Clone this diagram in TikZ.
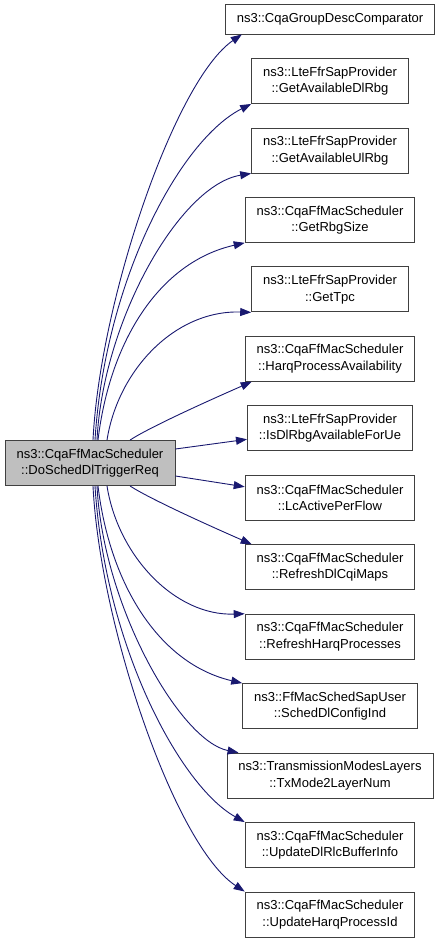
\documentclass[tikz,border=0pt]{standalone}
\usepackage{fontspec}
\setmainfont{Liberation Sans}
\usetikzlibrary{arrows.meta}
\definecolor{edgeblue}{HTML}{191970}
\definecolor{rootgray}{HTML}{BFBFBF}
\definecolor{boxline}{HTML}{404040}
\begin{document}
\begin{tikzpicture}[x=1pt,y=-1pt,
  every node/.style={font=\fontsize{13}{16.5}\selectfont, align=center},
  fnbox/.style={draw=boxline, line width=0.9pt, fill=white, inner xsep=11.5pt, inner ysep=0pt, minimum height=45pt},
  rootbox/.style={fnbox, fill=rootgray, minimum width=170pt},
  call/.style={draw=edgeblue, line width=0.9pt, -{Triangle[length=11pt,width=8pt]}}]
\useasboundingbox (0,0) rectangle (440,941);
\node[rootbox] (L) at (90,463) {ns3::CqaFfMacScheduler\\::DoSchedDlTriggerReq};
\node[fnbox, minimum height=30pt] (n1) at (330,19) {ns3::CqaGroupDescComparator};
\node[fnbox] (n2) at (330,81) {ns3::LteFfrSapProvider\\::GetAvailableDlRbg};
\node[fnbox] (n3) at (330,150.5) {ns3::LteFfrSapProvider\\::GetAvailableUlRbg};
\node[fnbox] (n4) at (330,219.9) {ns3::CqaFfMacScheduler\\::GetRbgSize};
\node[fnbox] (n5) at (330,289.4) {ns3::LteFfrSapProvider\\::GetTpc};
\node[fnbox] (n6) at (330,358.8) {ns3::CqaFfMacScheduler\\::HarqProcessAvailability};
\node[fnbox] (n7) at (330,428.3) {ns3::LteFfrSapProvider\\::IsDlRbgAvailableForUe};
\node[fnbox] (n8) at (330,497.8) {ns3::CqaFfMacScheduler\\::LcActivePerFlow};
\node[fnbox] (n9) at (330,567.2) {ns3::CqaFfMacScheduler\\::RefreshDlCqiMaps};
\node[fnbox] (n10) at (330,636.7) {ns3::CqaFfMacScheduler\\::RefreshHarqProcesses};
\node[fnbox] (n11) at (330,706.1) {ns3::FfMacSchedSapUser\\::SchedDlConfigInd};
\node[fnbox] (n12) at (330,775.6) {ns3::TransmissionModesLayers\\::TxMode2LayerNum};
\node[fnbox] (n13) at (330,845) {ns3::CqaFfMacScheduler\\::UpdateDlRlcBufferInfo};
\node[fnbox] (n14) at (330,914.5) {ns3::CqaFfMacScheduler\\::UpdateHarqProcessId};
% upper calls
\draw[call] ([xshift=3pt]L.north) .. controls (100,300) and (175,80) .. ([xshift=17pt]n1.south west);
\draw[call] ([xshift=5pt]L.north) .. controls (105,280) and (180,140) .. (n2.south west);
\draw[call] ([xshift=7pt]L.north) .. controls (103,320) and (180,185) .. (n3.south west);
\draw[call] ([xshift=8pt]L.north) .. controls (110,340) and (160,262) .. (n4.south west);
\draw[call] ([xshift=17pt]L.north) .. controls (118,370) and (175,310) .. (n5.south west);
\draw[call] ([xshift=40pt]L.north) .. controls (150,427) and (210,400) .. ([xshift=7pt]n6.south west);
% side calls
\draw[call] ([yshift=14pt]L.east) -- ([yshift=-11pt]n7.west);
\draw[call] ([yshift=-13pt]L.east) -- ([yshift=11pt]n8.west);
% lower calls
\draw[call] ([xshift=40pt]L.south) .. controls (150,499) and (210,526) .. ([xshift=7pt]n9.north west);
\draw[call] ([xshift=17pt]L.south) .. controls (118,556) and (175,616) .. (n10.north west);
\draw[call] ([xshift=8pt]L.south) .. controls (110,586) and (160,664) .. (n11.north west);
\draw[call] ([xshift=7pt]L.south) .. controls (103,606) and (180,741) .. ([xshift=12pt]n12.north west);
\draw[call] ([xshift=5pt]L.south) .. controls (105,646) and (180,786) .. (n13.north west);
\draw[call] ([xshift=3pt]L.south) .. controls (100,626) and (175,846) .. (n14.north west);
\end{tikzpicture}
\end{document}
